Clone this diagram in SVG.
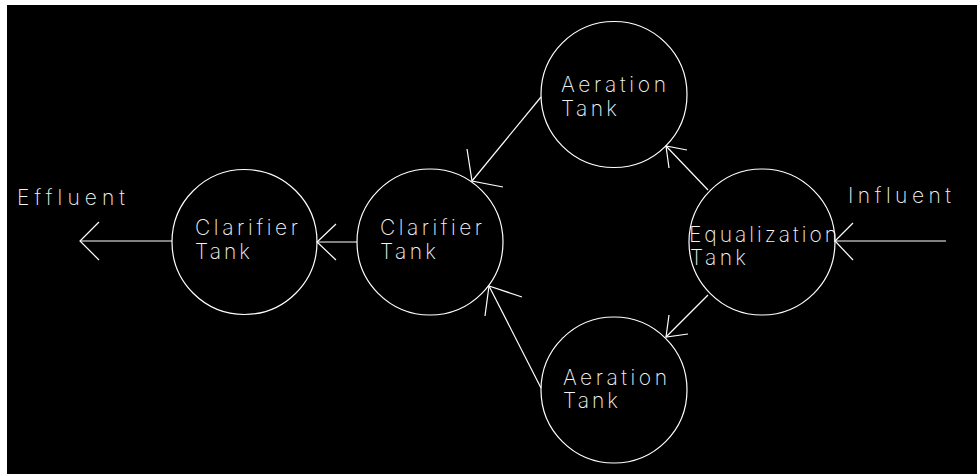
<svg xmlns="http://www.w3.org/2000/svg" width="977" height="475" viewBox="0 0 977 475">
<style>
.n{fill:none;stroke:#fff;stroke-width:1.2}
.c line,.c polyline{fill:none;stroke:#fff;stroke-width:1.2}
text{fill:#f2f2f2;font-family:Inter,"Open Sans","DejaVu Sans",sans-serif;font-size:21px;font-weight:200}
</style>
<rect x="0" y="0" width="977" height="475" fill="#fff"/>
<rect x="7" y="5" width="970" height="469" fill="#000"/>
<text x="17" y="205" textLength="108" lengthAdjust="spacing">Effluent</text>
<text x="848" y="203" textLength="103" lengthAdjust="spacing">Influent</text>
<g id="clarifier1">
<circle class="n" cx="244.5" cy="242" r="72.5"/>
<text x="195" y="235" textLength="103" lengthAdjust="spacing">Clarifier</text>
<text x="195" y="259" textLength="55" lengthAdjust="spacing">Tank</text>
</g>
<g id="clarifier2">
<circle class="n" cx="430" cy="242" r="73"/>
<text x="380" y="235" textLength="102" lengthAdjust="spacing">Clarifier</text>
<text x="380" y="259" textLength="56" lengthAdjust="spacing">Tank</text>
</g>
<g id="aeration1">
<circle class="n" cx="614" cy="94.5" r="73"/>
<text x="561" y="92" textLength="105" lengthAdjust="spacing">Aeration</text>
<text x="561" y="116" textLength="56" lengthAdjust="spacing">Tank</text>
</g>
<g id="equalization">
<circle class="n" cx="762" cy="242" r="73"/>
<text x="689" y="242" textLength="148" lengthAdjust="spacing">Equalization</text>
<text x="690" y="265" textLength="56" lengthAdjust="spacing">Tank</text>
</g>
<g id="aeration2">
<circle class="n" cx="614" cy="390" r="73"/>
<text x="563" y="385" textLength="104" lengthAdjust="spacing">Aeration</text>
<text x="563" y="408" textLength="55" lengthAdjust="spacing">Tank</text>
</g>
<g id="connectors" class="c">
<line x1="946" y1="241" x2="835" y2="241"/>
<polyline points="853,223 835,241 853,260"/>
<line x1="708" y1="190" x2="666" y2="146"/>
<polyline points="687,150 666,146 669,168"/>
<line x1="708" y1="295" x2="666" y2="337"/>
<polyline points="688,334 666,337 669,315"/>
<line x1="541" y1="97" x2="472" y2="181"/>
<polyline points="467,149 472,181 503,187"/>
<line x1="541" y1="388" x2="489" y2="286"/>
<polyline points="522,297 489,286 485,316"/>
<line x1="357" y1="242" x2="317" y2="242"/>
<polyline points="336,224 317,242 336,260"/>
<line x1="172" y1="241" x2="80" y2="241"/>
<polyline points="99,222 80,241 99,260"/>
</g>
</svg>
